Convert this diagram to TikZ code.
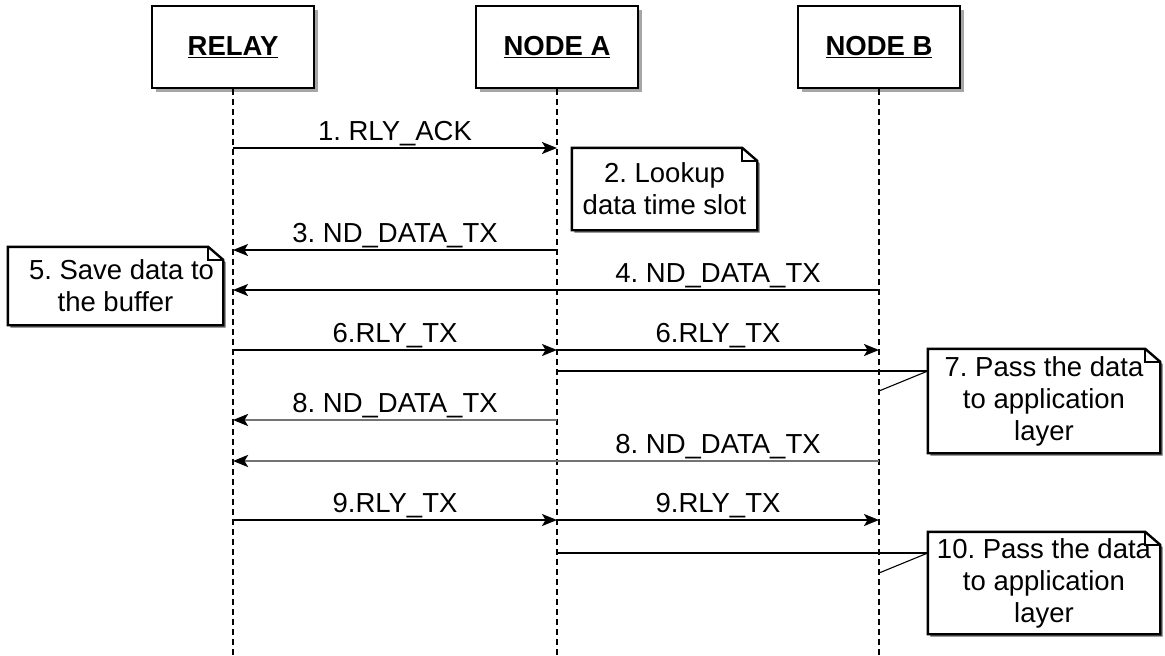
\documentclass[tikz,border=0pt]{standalone}
\usepackage{fontspec}
\setmainfont{Liberation Sans}
\usetikzlibrary{arrows.meta,shadows,backgrounds}
\frenchspacing

% 메모 상자: 오른쪽 위가 접힌 외곽선을 배경층에 그린다
\newcommand\notebox[1]{%
  \begin{scope}[on background layer]
    \draw[noteline, fill=white,
      drop shadow={shadow xshift=2.5pt, shadow yshift=-2.5pt, fill=black!60, opacity=1}]
      (#1.south west) -- (#1.north west) -- ([xshift=-15pt]#1.north east)
      -- ([yshift=-13pt]#1.north east) -- (#1.south east) -- cycle;
    \draw[noteline] ([xshift=-15pt]#1.north east) -- ([xshift=-15pt,yshift=-13pt]#1.north east)
      -- ([yshift=-13pt]#1.north east);
  \end{scope}}

\begin{document}
\begin{tikzpicture}[x=1pt, y=-1pt,
  font=\fontsize{27.5}{32}\selectfont,
  head/.style={draw, line width=1.6pt, fill=white, minimum width=162pt, minimum height=82pt,
    font=\fontsize{27.5}{32}\selectfont\bfseries,
    drop shadow={shadow xshift=4pt, shadow yshift=-4pt, fill=black!35, opacity=1}},
  life/.style={line width=1.1pt, dash pattern=on 6pt off 4pt},
  msg/.style={line width=1.6pt, -{Stealth[length=15pt, width=12pt, inset=3.5pt]}},
  back/.style={line width=2.6pt, draw=black!55, -{Stealth[length=15pt, width=12pt, inset=3.5pt, color=black]}},
  lbl/.style={anchor=base, inner sep=0pt},
  tie/.style={line width=1.6pt},
  noteline/.style={line width=2.4pt},
  note/.style={align=center, inner sep=0pt}]
  \useasboundingbox (0,0) rectangle (1165,656);
  % 맨 위 상자와 세로 점선
  \node[head] (relay) at (233,47) {\underline{RELAY}};
  \node[head] (nodea) at (557,47) {\underline{NODE A}};
  \node[head] (nodeb) at (879,47) {\underline{NODE B}};
  \coordinate (bot) at (0,656);
  \draw[life] (relay.south) -- (relay.south |- bot);
  \draw[life] (nodea.south) -- (nodea.south |- bot);
  \draw[life] (nodeb.south) -- (nodeb.south |- bot);
  % 메시지 행 (y 값)
  \coordinate (r1) at (0,148);
  \coordinate (r3) at (0,250);
  \coordinate (r4) at (0,290);
  \coordinate (r6) at (0,350);
  \coordinate (r7) at (0,371);
  \coordinate (r7b) at (0,391);
  \coordinate (r8) at (0,420);
  \coordinate (r8b) at (0,461);
  \coordinate (r9) at (0,520);
  \coordinate (r10) at (0,553);
  \coordinate (r10b) at (0,573);
  \draw[msg] (relay |- r1) -- (nodea |- r1);
  \node[lbl] (l1) at (395,140) {1. RLY\_ACK};
  \node[note, minimum width=185pt, minimum height=82pt] (note2) at (664.5,189) {2. Lookup\\data time slot};
  \notebox{note2}
  \draw[msg] (nodea |- r3) -- (relay |- r3);
  \node[lbl] (l3) at (395,242) {3. ND\_DATA\_TX};
  \draw[msg] (nodeb |- r4) -- (relay |- r4);
  \node[lbl] (l4) at (718,282) {4. ND\_DATA\_TX};
  \node[note, minimum width=215pt, minimum height=78pt] (note5) at (115.5,286) {\hspace*{12pt}5. Save data to\\the buffer};
  \notebox{note5}
  \draw[msg] (relay |- r6) -- (nodea |- r6);
  \draw[msg] (nodea |- r6) -- (nodeb |- r6);
  \node[lbl] (l6a) at (395,342) {6.RLY\_TX};
  \node[lbl] (l6b) at (718,342) {6.RLY\_TX};
  \node[note, minimum width=232pt, minimum height=104pt] (note7) at (1044,401) {7. Pass the data\\to application\\layer};
  \notebox{note7}
  \draw[tie] (nodea |- r7) -- (note7.west |- r7);
  \draw[line width=1.1pt] (nodeb |- r7b) -- (note7.west |- r7);
  \draw[back] (nodea |- r8) -- (relay |- r8);
  \node[lbl] (l8a) at (395,412) {8. ND\_DATA\_TX};
  \draw[back] (nodeb |- r8b) -- (relay |- r8b);
  \node[lbl] (l8b) at (718,453) {8. ND\_DATA\_TX};
  \draw[msg] (relay |- r9) -- (nodea |- r9);
  \draw[msg] (nodea |- r9) -- (nodeb |- r9);
  \node[lbl] (l9a) at (395,512) {9.RLY\_TX};
  \node[lbl] (l9b) at (718,512) {9.RLY\_TX};
  \node[note, minimum width=232pt, minimum height=102pt] (note10) at (1044,583) {10. Pass the data\\to application\\layer};
  \notebox{note10}
  \draw[tie] (nodea |- r10) -- (note10.west |- r10);
  \draw[line width=1.1pt] (nodeb |- r10b) -- (note10.west |- r10);
\end{tikzpicture}
\end{document}
